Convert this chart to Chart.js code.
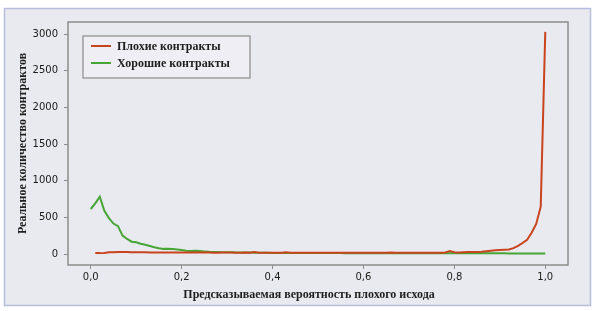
<!DOCTYPE html>
<html>
<head>
<meta charset="utf-8">
<script src="https://cdn.jsdelivr.net/npm/chart.js@4.4.1/dist/chart.umd.min.js"></script>
<style>
  html, body { margin: 0; padding: 0; background: #ffffff; }
  #wrap { width: 600px; height: 311px; position: relative; }
</style>
</head>
<body>
<div id="wrap"><canvas id="chart" width="600" height="311"></canvas></div>
<script>
// predicted probability of a bad outcome (x), bins of 0.01
const probs = [
  0.00, 0.01, 0.02, 0.03, 0.04, 0.05, 0.06, 0.07, 0.08, 0.09,
  0.10, 0.11, 0.12, 0.13, 0.14, 0.15, 0.16, 0.17, 0.18, 0.19,
  0.20, 0.21, 0.22, 0.23, 0.24, 0.25, 0.26, 0.27, 0.28, 0.29,
  0.30, 0.31, 0.32, 0.33, 0.34, 0.35, 0.36, 0.37, 0.38, 0.39,
  0.40, 0.41, 0.42, 0.43, 0.44, 0.45, 0.46, 0.47, 0.48, 0.49,
  0.50, 0.51, 0.52, 0.53, 0.54, 0.55, 0.56, 0.57, 0.58, 0.59,
  0.60, 0.61, 0.62, 0.63, 0.64, 0.65, 0.66, 0.67, 0.68, 0.69,
  0.70, 0.71, 0.72, 0.73, 0.74, 0.75, 0.76, 0.77, 0.78, 0.79,
  0.80, 0.81, 0.82, 0.83, 0.84, 0.85, 0.86, 0.87, 0.88, 0.89,
  0.90, 0.91, 0.92, 0.93, 0.94, 0.95, 0.96, 0.97, 0.98, 0.99,
  1.00
];

// bad contracts (red) - no value in the first bin
const badContracts = [
  null, 12, 12, 14, 25, 24, 28, 27, 26, 25,
  24, 24, 23, 22, 22, 21, 20, 20, 19, 20,
  22, 20, 19, 20, 22, 21, 20, 18, 18, 19,
  20, 19, 18, 18, 19, 18, 28, 18, 17, 17,
  18, 17, 17, 25, 17, 16, 16, 17, 16, 16,
  17, 16, 16, 17, 16, 16, 16, 17, 16, 16,
  17, 16, 16, 17, 16, 18, 20, 17, 16, 17,
  17, 16, 17, 17, 16, 17, 17, 18, 22, 40,
  24, 22, 24, 26, 27, 28, 32, 38, 45, 50,
  55, 58, 62, 80, 110, 150, 195, 290, 410, 645,
  3030
];

// good contracts (green)
const goodContracts = [
  614, 690, 781, 590, 490, 415, 380, 250, 205, 168,
  160, 140, 125, 108, 92, 80, 70, 72, 68, 62,
  55, 45, 42, 44, 40, 35, 30, 28, 26, 25,
  24, 23, 22, 22, 20, 19, 18, 17, 16, 16,
  15, 15, 15, 14, 14, 14, 13, 13, 13, 13,
  12, 12, 12, 12, 12, 12, 11, 11, 11, 11,
  11, 11, 11, 10, 10, 10, 10, 10, 10, 10,
  10, 10, 10, 10, 10, 10, 9, 9, 9, 9,
  9, 9, 9, 9, 9, 9, 9, 9, 9, 9,
  9, 9, 8, 8, 8, 8, 8, 8, 8, 8,
  8
];

const xTicks = [0, 0.2, 0.4, 0.6, 0.8, 1.0];
const yTicks = [0, 500, 1000, 1500, 2000, 2500, 3000];

const seriesLabels = ['Плохие контракты', 'Хорошие контракты'];
const seriesColors = ['#c9431d', '#46a534'];
const xTitle = 'Предсказываемая вероятность плохого исхода';
const yTitle = 'Реальное количество контрактов';

const serif = '"Liberation Serif", "DejaVu Serif", serif';
const sans = '"DejaVu Sans", Verdana, sans-serif';

function toPoints(values) {
  return probs.map((p, i) => ({ x: p, y: values[i] }));
}

// panel background + plot frame + boxed legend + x title
const framePlugin = {
  id: 'frame',
  beforeDraw(chart) {
    const ctx = chart.ctx;
    ctx.save();
    ctx.fillStyle = '#e9e9f0';
    ctx.fillRect(4, 8, 587, 298);
    ctx.strokeStyle = '#b7bedc';
    ctx.lineWidth = 1.5;
    ctx.strokeRect(4.5, 8.5, 586, 297);
    ctx.restore();
  },
  afterDraw(chart) {
    const ctx = chart.ctx;
    const a = chart.chartArea;
    ctx.save();
    ctx.strokeStyle = '#8c8c8c';
    ctx.lineWidth = 1.5;
    ctx.strokeRect(a.left, a.top, a.right - a.left, a.bottom - a.top);

    // x axis title, sits a little left of the plot centre
    ctx.font = 'bold 12px ' + serif;
    ctx.fillStyle = '#1e1e1e';
    ctx.textAlign = 'center';
    ctx.textBaseline = 'middle';
    ctx.fillText(xTitle, 309, 295);

    // legend box
    const bx = a.left + 15, by = a.top + 14, bw = 167, bh = 42;
    ctx.fillStyle = '#eeeef4';
    ctx.fillRect(bx, by, bw, bh);
    ctx.strokeStyle = '#8c8c8c';
    ctx.lineWidth = 1.2;
    ctx.strokeRect(bx, by, bw, bh);
    ctx.textAlign = 'left';
    chart.data.datasets.forEach((ds, i) => {
      const y = by + 10 + i * 17;
      ctx.strokeStyle = ds.borderColor;
      ctx.lineWidth = 2;
      ctx.beginPath();
      ctx.moveTo(bx + 8, y);
      ctx.lineTo(bx + 28, y);
      ctx.stroke();
      ctx.fillStyle = '#1e1e1e';
      ctx.fillText(ds.label, bx + 34, y + 1);
    });
    ctx.restore();
  }
};

new Chart(document.getElementById('chart'), {
  type: 'line',
  data: {
    datasets: [
      {
        label: seriesLabels[0],
        data: toPoints(badContracts),
        borderColor: seriesColors[0],
        borderWidth: 2,
        pointRadius: 0,
        tension: 0,
        spanGaps: false
      },
      {
        label: seriesLabels[1],
        data: toPoints(goodContracts),
        borderColor: seriesColors[1],
        borderWidth: 2,
        pointRadius: 0,
        tension: 0
      }
    ]
  },
  options: {
    responsive: false,
    animation: false,
    events: [],
    layout: { padding: { left: 0, top: 22, right: 32, bottom: 0 } },
    plugins: {
      legend: { display: false },
      tooltip: { enabled: false }
    },
    scales: {
      x: {
        type: 'linear',
        min: -0.05,
        max: 1.05,
        afterFit(scale) { scale.height = 46; },
        afterBuildTicks(scale) { scale.ticks = xTicks.map(v => ({ value: v })); },
        border: { display: false },
        grid: { drawOnChartArea: false, tickLength: 4, color: '#8c8c8c', lineWidth: 1 },
        ticks: {
          padding: 2,
          color: '#1a1a1a',
          font: { family: sans, size: 10 },
          maxRotation: 0,
          callback: v => v.toFixed(1).replace('.', ',')
        },
        title: { display: false }
      },
      y: {
        type: 'linear',
        min: -150,
        max: 3165,
        afterFit(scale) { scale.width = 68; },
        afterBuildTicks(scale) { scale.ticks = yTicks.map(v => ({ value: v })); },
        border: { display: false },
        grid: { drawOnChartArea: false, tickLength: 4, color: '#8c8c8c', lineWidth: 1 },
        ticks: {
          padding: 6,
          color: '#1a1a1a',
          font: { family: sans, size: 10 },
          callback: v => String(v)
        },
        title: {
          display: true,
          text: yTitle,
          color: '#1e1e1e',
          font: { family: serif, size: 12, weight: 'bold' },
          padding: { top: 16, bottom: 0 }
        }
      }
    }
  },
  plugins: [framePlugin]
});
</script>
</body>
</html>
